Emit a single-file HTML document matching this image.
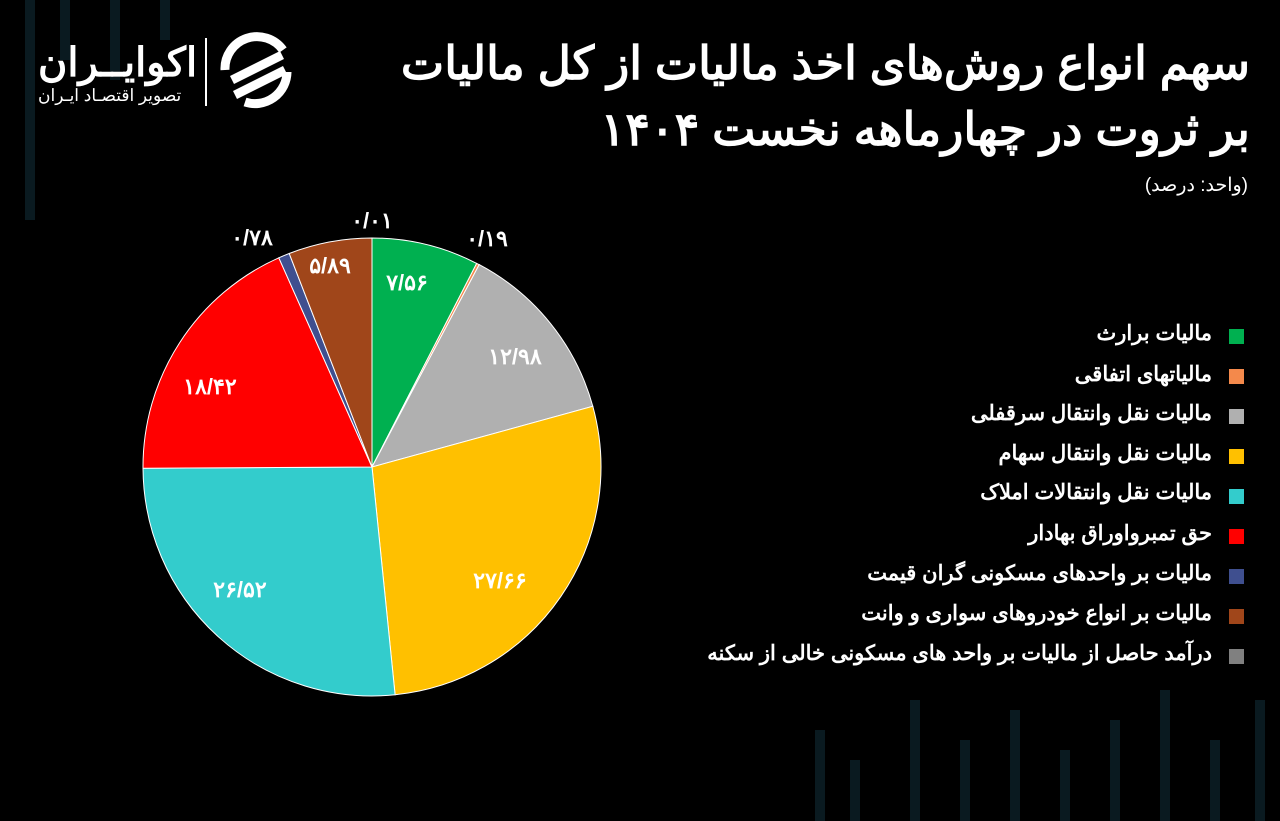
<!DOCTYPE html>
<html><head><meta charset="utf-8"><style>
body{margin:0;background:#000;width:1280px;height:821px;overflow:hidden;position:relative;font-family:"Liberation Sans","Noto Sans CJK SC",sans-serif;color:#fff}
.t{position:absolute;right:30px;direction:rtl;font-weight:900;font-size:46px;white-space:nowrap;line-height:1}
.bar{position:absolute;background:#0a1a20;width:10px}
.lg{position:absolute;right:68px;direction:rtl;font-size:21px;font-weight:bold;white-space:nowrap;line-height:22px}
.sq{position:absolute;left:1229px;width:15px;height:15px}
</style></head><body>
<div class="bar" style="left:25px;top:0;height:220px"></div>
<div class="bar" style="left:60px;top:0;height:60px"></div>
<div class="bar" style="left:110px;top:0;height:80px"></div>
<div class="bar" style="left:160px;top:0;height:40px"></div>
<div class="bar" style="left:815px;top:730px;height:91px"></div>
<div class="bar" style="left:850px;top:760px;height:61px"></div>
<div class="bar" style="left:910px;top:700px;height:121px"></div>
<div class="bar" style="left:960px;top:740px;height:81px"></div>
<div class="bar" style="left:1010px;top:710px;height:111px"></div>
<div class="bar" style="left:1060px;top:750px;height:71px"></div>
<div class="bar" style="left:1110px;top:720px;height:101px"></div>
<div class="bar" style="left:1160px;top:690px;height:131px"></div>
<div class="bar" style="left:1210px;top:740px;height:81px"></div>
<div class="bar" style="left:1255px;top:700px;height:121px"></div>
<div class="t" style="top:40px">سهم انواع روش‌های اخذ مالیات از کل مالیات</div>
<div class="t" style="top:106px">بر ثروت در چهارماهه نخست ۱۴۰۴</div>
<div style="position:absolute;right:32px;top:174px;font-size:19px;direction:rtl">(واحد: درصد)</div>
<div style="position:absolute;left:38px;top:40px;font-size:40px;font-weight:bold;direction:rtl">اکوایــران</div>
<div style="position:absolute;left:38px;top:86px;font-size:17px;direction:rtl">تصویر اقتصـاد ایـران</div>
<div style="position:absolute;left:205px;top:38px;width:2px;height:68px;background:#fff"></div>
<div class="lg" style="top:323px">مالیات برارث</div>
<div class="lg" style="top:364px">مالیاتهای اتفاقی</div>
<div class="lg" style="top:403px">مالیات نقل وانتقال سرقفلی</div>
<div class="lg" style="top:443px">مالیات نقل وانتقال سهام</div>
<div class="lg" style="top:482px">مالیات نقل وانتقالات املاک</div>
<div class="lg" style="top:523px">حق تمبرواوراق بهادار</div>
<div class="lg" style="top:563px">مالیات بر واحدهای مسکونی گران قیمت</div>
<div class="lg" style="top:603px">مالیات بر انواع خودروهای  سواری و وانت</div>
<div class="lg" style="top:643px;letter-spacing:0.6px">درآمد حاصل از مالیات بر واحد های مسکونی خالی از سکنه</div>
<div class="sq" style="top:329px;background:#00b050"></div>
<div class="sq" style="top:369px;background:#f4894b"></div>
<div class="sq" style="top:409px;background:#b0b0b0"></div>
<div class="sq" style="top:449px;background:#ffc000"></div>
<div class="sq" style="top:489px;background:#33cccc"></div>
<div class="sq" style="top:529px;background:#ff0000"></div>
<div class="sq" style="top:569px;background:#3f4f8f"></div>
<div class="sq" style="top:609px;background:#a0461a"></div>
<div class="sq" style="top:649px;background:#808080"></div>
<svg style="position:absolute;left:0;top:0" width="1280" height="821">
<g fill="none" stroke="#fff" stroke-width="9">
<path d="M225 70 a32 32 0 0 1 58 -20"/><path d="M232 80 l50 -25"/><path d="M235 95 l50 -25"/><path d="M245 102 a32 32 0 0 0 42 -30"/>
</g>
<g stroke="#fff" stroke-width="1">
<path d="M372 467 L372 238 A229 229 0 0 1 476.7 263.4 Z" fill="#00b050"/>
<path d="M372 467 L476.7 263.4 A229 229 0 0 1 479.2 264.6 Z" fill="#f4894b"/>
<path d="M372 467 L479.2 264.6 A229 229 0 0 1 592.8 406.3 Z" fill="#b0b0b0"/>
<path d="M372 467 L592.8 406.3 A229 229 0 0 1 395.1 694.8 Z" fill="#ffc000"/>
<path d="M372 467 L395.1 694.8 A229 229 0 0 1 143 468.3 Z" fill="#33cccc"/>
<path d="M372 467 L143 468.3 A229 229 0 0 1 278.8 257.8 Z" fill="#ff0000"/>
<path d="M372 467 L278.8 257.8 A229 229 0 0 1 289.2 253.5 Z" fill="#3f4f8f"/>
<path d="M372 467 L289.2 253.5 A229 229 0 0 1 372 238 Z" fill="#a0461a"/>
</g>
<g fill="#fff" font-weight="900" font-size="22" text-anchor="middle" font-family="Liberation Sans, sans-serif">
<text x="407" y="290">۷/۵۶</text><text x="515" y="364">۱۲/۹۸</text><text x="500" y="588">۲۷/۶۶</text>
<text x="240" y="597">۲۶/۵۲</text><text x="210" y="394">۱۸/۴۲</text><text x="330" y="273">۵/۸۹</text>
<text x="372" y="228">۰/۰۱</text><text x="487" y="246">۰/۱۹</text><text x="252" y="245">۰/۷۸</text>
</g>
</svg>
</body></html>
